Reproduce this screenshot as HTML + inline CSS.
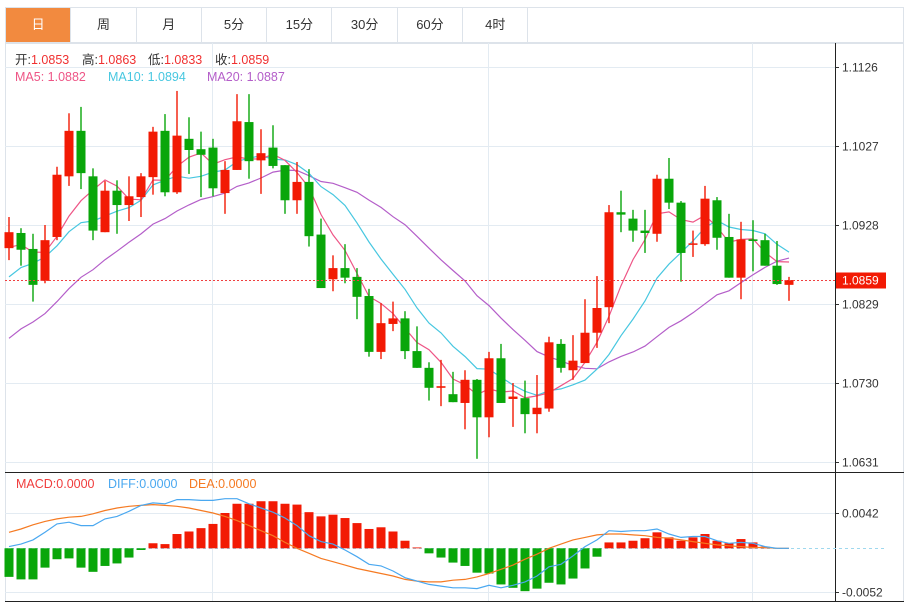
<!DOCTYPE html>
<html><head><meta charset="utf-8"><style>
body{margin:0;background:#fff;width:916px;height:604px;overflow:hidden;font-family:"Liberation Sans","Noto Sans CJK SC",sans-serif}
#tabs{position:absolute;left:5px;top:7px;width:899px;height:36px;border:1px solid #dde3ea;box-sizing:border-box;display:flex}
.tab{width:65.3px;height:34px;line-height:34px;text-align:center;font-size:13px;color:#333;border-right:1px solid #dde3ea;box-sizing:border-box}
.tab.on{background:#f28a3f;color:#fff}
svg{position:absolute;left:0;top:0}
</style></head><body>
<div id="tabs">
<div class="tab on">日</div>
<div class="tab">周</div>
<div class="tab">月</div>
<div class="tab">5分</div>
<div class="tab">15分</div>
<div class="tab">30分</div>
<div class="tab">60分</div>
<div class="tab">4时</div>
</div>
<svg id="chart" width="916" height="604"></svg>
<script>
const opens=[10899,10918,10898,10858,10913,10989,11046,10989,10919,10971,10953,10963,10988,11046,10969,11036,11023,11025,10968,10997,11057,11009,11025,11003,10959,10982,10916,10860,10874,10863,10839,10769,10804,10811,10770,10749,10724,10716,10705,10734,10687,10761,10710,10711,10691,10698,10779,10746,10755,10793,10825,10944,10936,10921,10917,10986,10956,10904,10904,10959,10913,10862,10910,10909,10877,10853];
const highs=[10938,10924,10917,10928,11001,11068,11076,10999,10983,10984,10989,10993,11051,11067,11096,11063,11045,11036,11008,11092,11092,11048,11053,11003,11007,10998,10936,10890,10904,10874,10848,10830,10832,10820,10801,10756,10759,10744,10746,10735,10769,10779,10730,10733,10740,10788,10785,10790,10835,10864,10953,10971,10947,10947,10991,11012,10958,10921,10977,10963,10942,10932,10934,10917,10908,10863];
const lows=[10884,10877,10832,10855,10909,10977,10973,10909,10919,10917,10933,10938,10966,10964,10967,10992,10963,10964,10942,10997,10986,10967,10999,10942,10942,10901,10849,10845,10855,10810,10763,10760,10795,10760,10749,10708,10701,10706,10672,10635,10662,10705,10675,10667,10667,10694,10743,10734,10755,10774,10805,10919,10907,10893,10907,10948,10857,10888,10902,10897,10862,10835,10870,10877,10853,10833];
const closes=[10919,10897,10853,10909,10991,11046,10993,10921,10971,10953,10964,10989,11045,10969,11040,11022,11016,10974,10997,11058,11008,11018,11002,10959,10982,10914,10849,10874,10862,10838,10769,10805,10811,10770,10749,10724,10726,10706,10734,10687,10761,10705,10713,10691,10699,10781,10749,10758,10793,10824,10944,10941,10921,10918,10986,10956,10893,10905,10961,10912,10862,10910,10908,10877,10854,10859];
const priorCloses=[10660,10680,10700,10690,10720,10710,10730,10720,10740,10740,10780,10800,10830,10850,10870,10880,10900,10910,10891];
const macdHist=[-34,-37,-37,-23,-13,-12,-23,-28,-21,-18,-11,-2,6,5,17,20,24,29,42,53,53,56,56,53,52,43,38,40,36,30,23,25,20,9,1,-6,-11,-17,-21,-29,-30,-43,-47,-51,-48,-41,-43,-36,-24,-10,7,7,9,12,19,13,9,13,17,9,6,11,7,2,0,0];
const diffLine=[2,5,10,19,29,31,27,27,35,38,44,51,54,53,58,58,57,57,59,59,53,48,43,36,27,15,8,5,-2,-10,-19,-21,-27,-35,-39,-43,-45,-47,-47,-48,-44,-47,-44,-40,-33,-22,-19,-9,2,10,21,20,21,21,23,17,13,14,14,9,6,7,6,2,0,0];
const deaLine=[19,23,28,32,35,37,38,41,45,48,50,51,52,51,50,48,45,42,38,33,27,21,15,7,0,-6,-12,-16,-20,-24,-27,-30,-33,-37,-39,-40,-40,-38,-37,-34,-30,-25,-20,-13,-7,0,5,10,13,16,17,17,16,15,13,12,10,8,6,4,3,2,1,1,0,0];
const priceTicks=[1.1126,1.1027,1.0928,1.0829,1.0730,1.0631];
const macdTicks=[0.0042,-0.0052];

const S=document.getElementById('chart');const NS='http://www.w3.org/2000/svg';
function mk(t,a,p){const e=document.createElementNS(NS,t);for(const k in a)e.setAttribute(k,a[k]);(p||S).appendChild(e);return e;}
const X=i=>9+12*i;
const Y=p=>67+(1.1126-p)*7980;
const YM=v=>548.3-v*8404;
const RED='#f21a04',GREEN='#09a60a';
const fr=mk('rect',{x:5.5,y:43.5,width:898,height:558,fill:'none',stroke:'#dde3ea'});

[212,488,752].forEach(x=>{mk('line',{x1:x+.5,x2:x+.5,y1:43,y2:602,stroke:'#e3ebf2'});});
priceTicks.forEach(t=>{const y=Math.round(Y(t))+.5;mk('line',{x1:5,x2:835,y1:y,y2:y,stroke:'#e3ebf2'});
 mk('line',{x1:835,x2:839,y1:y,y2:y,stroke:'#333'});
 const tx=mk('text',{x:842,y:y+4,'font-size':12,fill:'#333'});tx.textContent=t.toFixed(4);
 });
macdTicks.forEach(t=>{const y=Math.round(YM(t))+.5;mk('line',{x1:5,x2:835,y1:y,y2:y,stroke:'#e3ebf2'});
 mk('line',{x1:835,x2:839,y1:y,y2:y,stroke:'#333'});
 const tx=mk('text',{x:842,y:y+4,'font-size':12,fill:'#333'});tx.textContent=t.toFixed(4);
 });
mk('line',{x1:5,x2:904,y1:472.5,y2:472.5,stroke:'#222'});
mk('line',{x1:5,x2:904,y1:601.5,y2:601.5,stroke:'#222'});
mk('line',{x1:835.5,x2:835.5,y1:43,y2:602,stroke:'#222'});
const all=priorCloses.concat(closes);const P=priorCloses.length;
function ma(n){return closes.map((c,i)=>{let s=0;for(let k=0;k<n;k++)s+=all[P+i-k];return s/n/10000;});}
[[20,'#b45ec9','ma20-line'],[10,'#47c7e0','ma10-line'],[5,'#ee5586','ma5-line']].forEach(([n,c,nm])=>{
 const m=ma(n);const l=mk('polyline',{points:m.map((v,i)=>X(i)+','+Y(v).toFixed(1)).join(' '),fill:'none',stroke:c,'stroke-width':1.2});
 });
closes.forEach((c,i)=>{const o=opens[i]/1e4,cl=c/1e4,h=highs[i]/1e4,lo=lows[i]/1e4;const up=cl>=o;const col=up?RED:GREEN;
 const g=mk('g',{});
 mk('line',{x1:X(i),x2:X(i),y1:Y(h),y2:Y(lo),stroke:col,'stroke-width':1.4},g);
 const t=Y(Math.max(o,cl)),b=Y(Math.min(o,cl));
 mk('rect',{x:X(i)-4.5,y:t,width:9,height:Math.max(b-t,1.5),fill:col},g);});
const lp=closes[closes.length-1]/1e4;const ly=Math.round(Y(lp))+.5;
const pl=mk('line',{x1:5,x2:835,y1:ly,y2:ly,stroke:'#f04040','stroke-dasharray':'2,2'});

mk('rect',{x:836,y:ly-8,width:50,height:16,fill:RED});
const lt=mk('text',{x:842,y:ly+4,'font-size':12,fill:'#fff'});lt.textContent=lp.toFixed(4);

const zl=mk('line',{x1:5,x2:886,y1:548.5,y2:548.5,stroke:'#9fd8ee','stroke-dasharray':'3,3'});

macdHist.forEach((v,i)=>{const y0=YM(0),y1=YM(v/1e4);const r=mk('rect',{x:X(i)-4.5,y:Math.min(y0,y1),width:9,height:Math.abs(y1-y0),fill:v>=0?RED:GREEN});
 });
[[deaLine,'#f57a22','dea-line'],[diffLine,'#4aa8f0','diff-line']].forEach(([a,c,nm])=>{
 const l=mk('polyline',{points:a.map((v,i)=>X(i)+','+YM(v/1e4).toFixed(1)).join(' '),fill:'none',stroke:c,'stroke-width':1.2});
 });
</script>
<svg width="916" height="604" style="pointer-events:none">
<g font-size="12.5">
<text x="15" y="64" fill="#333">开:<tspan fill="#f03030">1.0853</tspan></text>
<text x="82" y="64" fill="#333">高:<tspan fill="#f03030">1.0863</tspan></text>
<text x="148" y="64" fill="#333">低:<tspan fill="#f03030">1.0833</tspan></text>
<text x="215" y="64" fill="#333">收:<tspan fill="#f03030">1.0859</tspan></text>
</g>
<g font-size="12.5">
<text x="15" y="81" fill="#ee5586">MA5: 1.0882</text>
<text x="108" y="81" fill="#47c7e0">MA10: 1.0894</text>
<text x="207" y="81" fill="#b45ec9">MA20: 1.0887</text>
</g>
<g font-size="12.5">
<text x="16" y="488" fill="#f03c3c">MACD:0.0000</text>
<text x="108" y="488" fill="#4aa8f0">DIFF:0.0000</text>
<text x="189" y="488" fill="#f57a22">DEA:0.0000</text>
</g>
</svg>
</body></html>
